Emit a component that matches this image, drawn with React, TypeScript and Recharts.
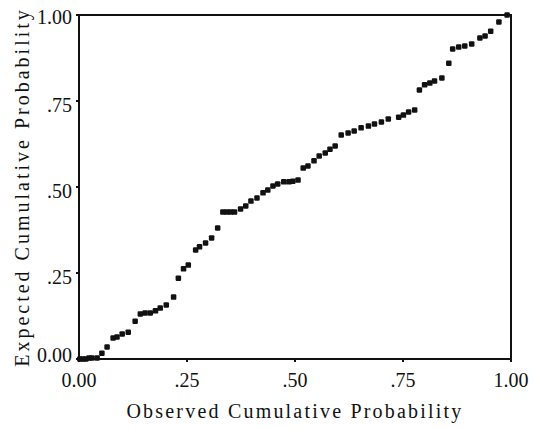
import {
  ReferenceArea, Scatter, ScatterChart, XAxis, YAxis,
} from 'recharts';

// observed vs expected cumulative probability (P-P plot)
const observed = [
  0.002, 0.009, 0.016, 0.023, 0.030, 0.042, 0.053, 0.065, 0.079, 0.088,
  0.100, 0.114, 0.130, 0.142, 0.153, 0.165, 0.177, 0.188, 0.202, 0.219,
  0.230, 0.242, 0.253, 0.270, 0.279, 0.293, 0.307, 0.321, 0.333, 0.342,
  0.351, 0.360, 0.374, 0.386, 0.398, 0.412, 0.426, 0.437, 0.449, 0.460,
  0.474, 0.486, 0.495, 0.507, 0.519, 0.530, 0.544, 0.556, 0.570, 0.581,
  0.593, 0.607, 0.623, 0.637, 0.653, 0.670, 0.684, 0.700, 0.716, 0.740,
  0.751, 0.763, 0.777, 0.788, 0.800, 0.812, 0.823, 0.840, 0.856, 0.865,
  0.879, 0.893, 0.909, 0.928, 0.940, 0.953, 0.972, 0.991,
];
const expected = [
  0.000, 0.000, 0.000, 0.003, 0.003, 0.003, 0.017, 0.035, 0.061, 0.064,
  0.073, 0.078, 0.110, 0.131, 0.134, 0.134, 0.140, 0.148, 0.157, 0.180,
  0.235, 0.262, 0.273, 0.317, 0.326, 0.337, 0.352, 0.381, 0.427, 0.427,
  0.427, 0.427, 0.436, 0.445, 0.459, 0.468, 0.483, 0.491, 0.503, 0.509,
  0.515, 0.515, 0.517, 0.520, 0.555, 0.561, 0.576, 0.590, 0.599, 0.610,
  0.619, 0.651, 0.657, 0.663, 0.672, 0.677, 0.683, 0.689, 0.698, 0.703,
  0.709, 0.718, 0.724, 0.782, 0.797, 0.802, 0.808, 0.817, 0.860, 0.901,
  0.907, 0.910, 0.916, 0.933, 0.939, 0.953, 0.980, 1.000,
];

const ticks = [0, 0.25, 0.5, 0.75, 1];
const tickLabels = ['0.00', '.25', '.50', '.75', '1.00'];

const FONT = '"Liberation Serif", "DejaVu Serif", serif';
const INK = '#111';

const points = observed.map((x, i) => ({ x, y: expected[i] }));
const labelFor = (v: number) => tickLabels[ticks.indexOf(v)] ?? String(v);

const Dot = ({ cx, cy }: any) => (
  <rect x={cx - 2.75} y={cy - 2.75} width={5.5} height={5.5} rx={1.2} fill={INK} />
);

const YTick = ({ x, y, payload }: any) => {
  const shift = payload.value === 0 ? -4 : payload.value === 1 ? 2 : 4;
  return (
    <text x={x} y={y + shift} dy="0.355em" textAnchor="end" fontFamily={FONT} fontSize={20} fill={INK}>
      {labelFor(payload.value)}
    </text>
  );
};

const XTitle = ({ viewBox }: any) => (
  <text x={viewBox.x + viewBox.width / 2} y={viewBox.y + 59} textAnchor="middle"
    fontFamily={FONT} fontSize={20} letterSpacing={2.2} fill={INK}>
    Observed Cumulative Probability
  </text>
);

const YTitle = ({ viewBox }: any) => {
  const cx = viewBox.x + 22;
  const cy = viewBox.y + viewBox.height / 2;
  return (
    <text x={cx} y={cy} dy="0.35em" textAnchor="middle" transform={`rotate(-90 ${cx} ${cy})`}
      fontFamily={FONT} fontSize={20} letterSpacing={3} fill={INK}>
      Expected Cumulative Probability
    </text>
  );
};

export default function App() {
  return (
    <div style={{ position: 'absolute', left: 0, top: 0, background: '#fff' }}>
      <ScatterChart width={534} height={428} margin={{ top: 15, right: 23, bottom: 0, left: 0 }}>
        <XAxis
          type="number" dataKey="x" domain={[0, 1]} ticks={ticks}
          tickFormatter={labelFor} height={69}
          axisLine={{ stroke: INK, strokeWidth: 2 }}
          tickLine={{ stroke: INK, strokeWidth: 2 }} tickSize={3} tickMargin={11}
          tick={{ fill: INK, fontFamily: FONT, fontSize: 20 }}
          label={<XTitle />}
        />
        <YAxis
          type="number" dataKey="y" domain={[0, 1]} ticks={ticks} width={79}
          axisLine={{ stroke: INK, strokeWidth: 2 }}
          tickLine={{ stroke: INK, strokeWidth: 2 }} tickSize={3} tickMargin={4}
          tick={<YTick />}
          label={<YTitle />}
        />
        <ReferenceArea x1={0} x2={1} y1={0} y2={1} fill="none" stroke={INK} strokeWidth={2} fillOpacity={0} />
        <Scatter data={points} shape={<Dot />} isAnimationActive={false} />
      </ScatterChart>
    </div>
  );
}
